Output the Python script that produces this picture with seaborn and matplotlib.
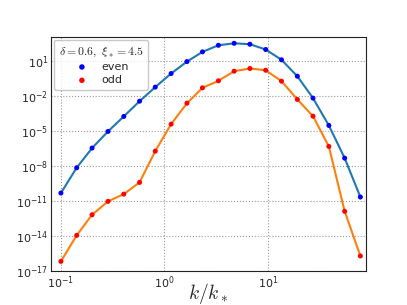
import numpy as np
import pandas as pd
import matplotlib
matplotlib.use('Agg')
import matplotlib.pyplot as plt
import seaborn as sns

# k/k_* sample points
k = [0.1, 0.142, 0.2, 0.285, 0.405, 0.575, 0.815, 1.16, 1.65, 2.33,
     3.32, 4.71, 6.69, 9.5, 13.5, 19.2, 27.2, 38.7, 55.0, 78.0]
# log10 of the spectra
log_even = [-10.31, -8.15, -6.47, -5.05, -3.77, -2.47, -1.27, -0.11, 0.91, 1.74,
            2.30, 2.47, 2.39, 1.94, 1.06, -0.34, -2.21, -4.54, -7.33, -10.65]
log_odd = [-16.14, -13.92, -12.16, -11.02, -10.40, -9.40, -6.73, -4.43, -2.64, -1.33,
           -0.73, 0.09, 0.32, 0.17, -0.76, -2.32, -3.75, -6.33, -11.87, -15.68]

df = pd.DataFrame({'k': k,
                   'even': 10.0 ** np.array(log_even),
                   'odd': 10.0 ** np.array(log_odd)})

sns.set_style('white')
plt.rcParams['mathtext.fontset'] = 'cm'
fig = plt.figure(figsize=(4.07, 3.05), dpi=100)
ax = fig.gca()

sns.lineplot(data=df, x='k', y='even', color='tab:blue', lw=1.5, ax=ax)
sns.lineplot(data=df, x='k', y='odd', color='tab:orange', lw=1.5, ax=ax)
sns.scatterplot(data=df, x='k', y='even', color='blue', s=13, edgecolor='none',
                label='even', ax=ax, zorder=3)
sns.scatterplot(data=df, x='k', y='odd', color='red', s=13, edgecolor='none',
                label='odd', ax=ax, zorder=3)

ax.set_xscale('log')
ax.set_yscale('log')
ax.set_xlim(0.08, 89)
ax.set_ylim(1e-17, 1.1e3)
ax.set_yticks([10.0 ** e for e in range(-17, 2, 3)])
ax.yaxis.set_minor_locator(matplotlib.ticker.NullLocator())
ax.grid(True, which='major', ls=':', color='#999999', lw=0.8)
ax.tick_params(axis='both', which='both', direction='in', labelsize=8, length=3, pad=2)
ax.tick_params(axis='x', which='minor', length=2)
for s in ax.spines.values():
    s.set_color('#222222')

ax.set_xlabel(r'$k/k_*$', fontsize=14)
ax.xaxis.set_label_coords(0.5, -0.04)
ax.set_ylabel('')
leg = ax.legend(title=r'$\delta=0.6,\ \xi_*=4.5$', loc='upper left',
                fontsize=8, title_fontsize=8.5, handletextpad=1.0,
                handlelength=1.5, borderaxespad=0.3, markerscale=1.1,
                labelspacing=0.3, alignment='center')
leg.get_frame().set_edgecolor('#bbbbbb')

fig.savefig('out.png', dpi=100)
